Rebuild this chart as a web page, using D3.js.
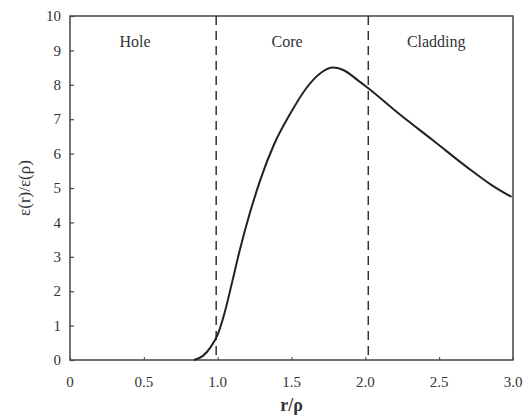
<!DOCTYPE html>
<html>
<head>
<meta charset="utf-8">
<script src="https://cdn.jsdelivr.net/npm/d3@7"></script>
<style>
  body { margin: 0; background: #fff; }
  text { font-family: "Liberation Serif", "DejaVu Serif", serif; fill: #333; }
</style>
</head>
<body>
<div id="chart"></div>
<script>
// Field ratio along the radius
var radius = [0.84, 0.90, 0.95, 1.00, 1.05, 1.10, 1.15, 1.22, 1.29, 1.38, 1.49, 1.60, 1.70, 1.78, 1.85, 1.95, 2.02, 2.23, 2.46, 2.69, 2.85, 2.99];
var ratio  = [0.00, 0.12, 0.36, 0.74, 1.42, 2.30, 3.20, 4.30, 5.25, 6.25, 7.15, 7.90, 8.35, 8.50, 8.43, 8.13, 7.90, 7.15, 6.38, 5.60, 5.10, 4.74];
var boundaries = [0.99, 2.02];
var regions = [{ name: 'Hole', at: 0.44 }, { name: 'Core', at: 1.47 }, { name: 'Cladding', at: 2.48 }];
var xTicks = [0, 0.5, 1.0, 1.5, 2.0, 2.5, 3.0];
var xTickLabels = ['0', '0.5', '1.0', '1.5', '2.0', '2.5', '3.0'];
var yTicks = [0, 1, 2, 3, 4, 5, 6, 7, 8, 9, 10];

var margin = { top: 16, right: 16, bottom: 57, left: 70 };
var totalWidth = 529, totalHeight = 417;
var width = totalWidth - margin.left - margin.right;
var height = totalHeight - margin.top - margin.bottom;

var x = d3.scaleLinear().domain([0, 3]).range([0, width]);
var y = d3.scaleLinear().domain([0, 10]).range([height, 0]);

var svg = d3.select('#chart').append('svg')
  .attr('width', totalWidth)
  .attr('height', totalHeight);

var main = svg.append('g')
  .attr('transform', 'translate(' + margin.left + ',' + margin.top + ')');

// Frame
main.append('rect')
  .attr('width', width)
  .attr('height', height)
  .attr('fill', 'none')
  .attr('stroke', '#444')
  .attr('stroke-width', 1.5);

// Y axis with inward ticks
var yAxis = main.append('g')
  .call(d3.axisRight(y).tickValues(yTicks).tickSize(4).tickFormat(''));
yAxis.select('.domain').remove();
yAxis.selectAll('line').attr('stroke', '#444').attr('stroke-width', 1.2);

main.selectAll('.ylab')
  .data(yTicks)
  .enter().append('text')
  .attr('class', 'ylab')
  .attr('x', -9)
  .attr('y', function(d) { return y(d); })
  .attr('dy', '0.35em')
  .attr('text-anchor', 'end')
  .style('font-size', '15px')
  .text(function(d) { return d; });

// X axis with inward ticks
var xAxis = main.append('g')
  .attr('transform', 'translate(0,' + height + ')')
  .call(d3.axisTop(x).tickValues(xTicks).tickSize(3).tickFormat(''));
xAxis.select('.domain').remove();
xAxis.selectAll('line').attr('stroke', '#444');

main.selectAll('.xlab')
  .data(xTicks)
  .enter().append('text')
  .attr('class', 'xlab')
  .attr('x', function(d) { return x(d); })
  .attr('y', height + 27)
  .attr('text-anchor', 'middle')
  .style('font-size', '15px')
  .text(function(d, i) { return xTickLabels[i]; });

// Region boundaries
main.selectAll('.bound')
  .data(boundaries)
  .enter().append('line')
  .attr('class', 'bound')
  .attr('x1', function(d) { return x(d); })
  .attr('x2', function(d) { return x(d); })
  .attr('y1', 0)
  .attr('y2', height)
  .attr('stroke', '#333')
  .attr('stroke-width', 1.5)
  .attr('stroke-dasharray', '9,6');

// Region names
main.selectAll('.region')
  .data(regions)
  .enter().append('text')
  .attr('class', 'region')
  .attr('x', function(d) { return x(d.at); })
  .attr('y', 31)
  .attr('text-anchor', 'middle')
  .style('font-size', '16px')
  .text(function(d) { return d.name; });

// Curve
var points = radius.map(function(r, i) { return [r, ratio[i]]; });
var line = d3.line()
  .x(function(d) { return x(d[0]); })
  .y(function(d) { return y(d[1]); })
  .curve(d3.curveMonotoneX);

main.append('path')
  .datum(points)
  .attr('d', line)
  .attr('fill', 'none')
  .attr('stroke', '#222')
  .attr('stroke-width', 2);

// Axis titles
svg.append('text')
  .attr('x', margin.left + x(1.5))
  .attr('y', 411)
  .attr('text-anchor', 'middle')
  .style('font-size', '18px')
  .style('font-weight', 'bold')
  .text('r/ρ');

svg.append('text')
  .attr('transform', 'translate(30,' + (margin.top + y(5)) + ') rotate(-90)')
  .attr('text-anchor', 'middle')
  .style('font-size', '17px')
  .text('ε(r)/ε(ρ)');
</script>
</body>
</html>
